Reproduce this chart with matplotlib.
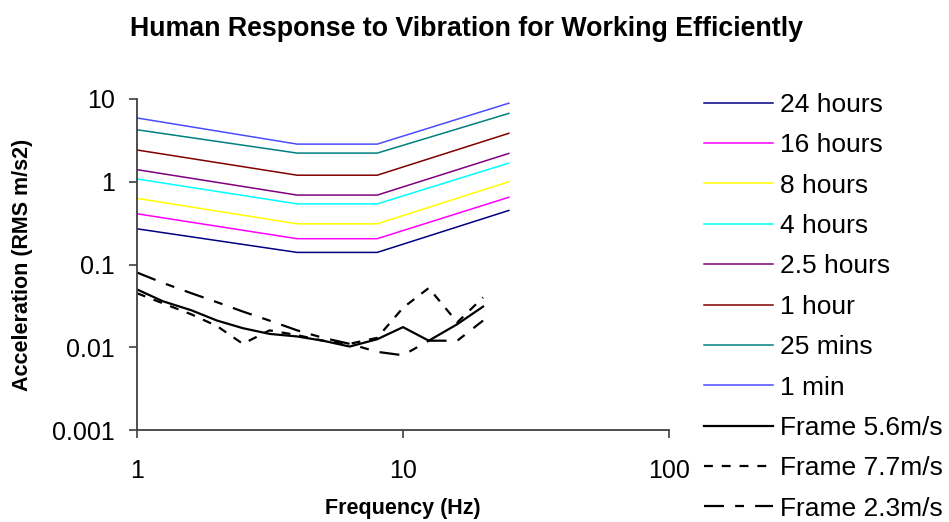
import matplotlib
matplotlib.use("Agg")
import matplotlib.pyplot as plt

plt.rcParams['font.family'] = ['Liberation Sans', 'DejaVu Sans']

# ISO comfort curves: 1, 4, 8, 25 Hz break points
iso_freq = [1, 4, 8, 25]
iso_labels = ["24 hours", "16 hours", "8 hours", "4 hours",
              "2.5 hours", "1 hour", "25 mins", "1 min"]
iso_values = [
    [0.27, 0.14, 0.14, 0.45],
    [0.41, 0.205, 0.205, 0.65],
    [0.63, 0.31, 0.31, 1.0],
    [1.08, 0.54, 0.54, 1.68],
    [1.40, 0.69, 0.69, 2.2],
    [2.42, 1.20, 1.20, 3.85],
    [4.25, 2.22, 2.22, 6.7],
    [5.9, 2.85, 2.85, 8.9],
]
iso_colors = ["#000080", "#ff00ff", "#ffff00", "#00ffff",
              "#800080", "#800000", "#008080", "#4c4cff"]

# measured frame vibration, 1/3 octave bands
frame_freq = [1, 1.25, 1.6, 2, 2.5, 3.15, 4, 5, 6.3, 8, 10, 12.5, 16, 20]
frame_56 = [0.05, 0.036, 0.028, 0.021, 0.017, 0.0145, 0.0135, 0.012,
            0.0102, 0.0125, 0.0175, 0.012, 0.019, 0.031]
frame_77 = [0.045, 0.034, 0.025, 0.018, 0.011, 0.016, 0.014, 0.012,
            0.011, 0.013, 0.03, 0.052, 0.02, 0.04]
frame_23 = [0.08, 0.06, 0.045, 0.035, 0.027, 0.021, 0.016, 0.013,
            0.011, 0.0088, 0.008, 0.012, 0.012, 0.021]

fig = plt.figure(figsize=(9.49, 5.22), dpi=100)
ax = fig.add_axes([137/949, 92/522, 532/949, 331/522])

for vals, lab, col in zip(iso_values, iso_labels, iso_colors):
    ax.plot(iso_freq, vals, color=col, lw=1.1, label=lab)

ax.plot(frame_freq, frame_56, color="black", lw=1.6, label="Frame 5.6m/s")
ax.plot(frame_freq, frame_77, color="black", lw=1.6, ls=(0, (4, 4)),
        label="Frame 7.7m/s")
ax.plot(frame_freq, frame_23, color="black", lw=1.6, ls=(0, (9, 5, 4, 5)),
        label="Frame 2.3m/s")

ax.set_xscale("log")
ax.set_yscale("log")
ax.set_xlim(1, 100)
ax.set_ylim(0.001, 10)
ax.minorticks_off()
ax.set_xticks([1, 10, 100])
ax.set_xticklabels(["1", "10", "100"])
ax.set_yticks([0.001, 0.01, 0.1, 1, 10])
ax.set_yticklabels(["0.001", "0.01", "0.1", "1", "10"])
ax.tick_params(direction="out", length=6, width=1.2, color="#404040",
               labelsize=18, pad=10)
ax.tick_params(axis="x", pad=15)

for side in ["top", "right"]:
    ax.spines[side].set_visible(False)
for side in ["left", "bottom"]:
    ax.spines[side].set_color("#404040")
    ax.spines[side].set_linewidth(1.3)

ax.set_xlabel("Frequency (Hz)", fontsize=15.5, fontweight="bold", labelpad=11)
ax.set_ylabel("Acceleration (RMS m/s2)", fontsize=15.5, fontweight="bold",
              labelpad=14)
fig.text(0.492, 0.944, "Human Response to Vibration for Working Efficiently",
         ha="center", va="center", fontsize=19.3, fontweight="bold")

fig.legend(loc="upper left", bbox_to_anchor=(704/949, 1 - 93/522),
           frameon=False, fontsize=19, handlelength=2.6, handletextpad=0.27,
           labelspacing=0.62, borderpad=0, borderaxespad=0)

fig.savefig("out.png", dpi=100)
